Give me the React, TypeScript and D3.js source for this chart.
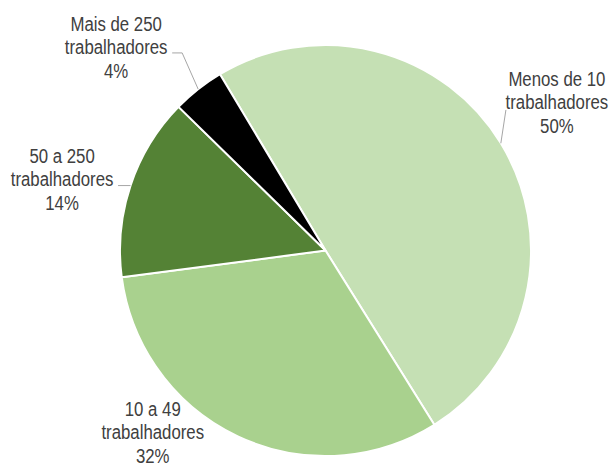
import React from "react";
import * as d3 from "d3";

// ---- Data ----
const categories = [
  "Menos de 10 trabalhadores",
  "10 a 49 trabalhadores",
  "50 a 250 trabalhadores",
  "Mais de 250 trabalhadores",
];
const categoryLines = [
  ["Menos de 10", "trabalhadores"],
  ["10 a 49", "trabalhadores"],
  ["50 a 250", "trabalhadores"],
  ["Mais de 250", "trabalhadores"],
];
const values = [49.7, 31.8, 14.4, 4.1];
const colors = ["#C5E0B4", "#A9D18E", "#548235", "#000000"];

// ---- Layout ----
const W = 614;
const H = 467;
const CX = 325.5;
const CY = 250.5;
const R = 205.5;
const START_DEG = -30.9;
const LINE_H = 23.5;
const FONT_SIZE = 21;
const NARROW = 0.8;
// label centre (middle line) in polar coordinates around the pie centre
const labelPolar = [
  { a: 57.3, r: 275 },
  { a: 223.6, r: 250.5 },
  { a: 285.2, r: 273 },
  { a: 314.2, r: 292 },
];
// leader line end points relative to label centre (null = no leader)
const leaderEnds: (Array<[number, number | "edge"]> | null)[] = [
  [[-51, 8]],
  null,
  [[56, "edge"]],
  [[66, 6], [56, 6]],
];

const rad = (d: number) => (d * Math.PI) / 180;

export default function App() {
  const pie = d3
    .pie<number>()
    .sort(null)
    .value((d) => d)
    .startAngle(rad(START_DEG))
    .endAngle(rad(START_DEG + 360));
  const arcs = pie(values);
  const arc = d3.arc<d3.PieArcDatum<number>>().innerRadius(0).outerRadius(R);
  const line = d3.line();

  return (
    <svg
      width={W}
      height={H}
      style={{ position: "absolute", left: 0, top: 0, background: "#fff" }}
      fontFamily="'Liberation Sans', Arial, sans-serif"
    >
      <g transform={`translate(${CX},${CY})`}>
        {arcs.map((a, i) => (
          <path
            key={categories[i]}
            d={arc(a) || ""}
            fill={colors[i]}
            stroke="#ffffff"
            strokeWidth={2}
            strokeLinejoin="round"
          />
        ))}
      </g>
      {arcs.map((a, i) => {
        const mid = (a.startAngle + a.endAngle) / 2;
        const ex = CX + Math.sin(mid) * R;
        const ey = CY - Math.cos(mid) * R;
        const lp = labelPolar[i];
        const lx = CX + Math.sin(rad(lp.a)) * lp.r;
        const ly = CY - Math.cos(rad(lp.a)) * lp.r;
        const ends = leaderEnds[i];
        let leader: React.ReactNode = null;
        if (ends) {
          const pts: [number, number][] = [[ex, ey]];
          ends.forEach((p) => {
            const y = p[1] === "edge" ? ey : ly + p[1];
            pts.push([lx + p[0], y]);
          });
          leader = (
            <path d={line(pts) || ""} fill="none" stroke="#A6A6A6" strokeWidth={1} />
          );
        }
        const lines = [...categoryLines[i], `${Math.round(values[i])}%`];
        return (
          <g key={"lbl" + i}>
            {leader}
            <text
              textAnchor="middle"
              fontSize={FONT_SIZE}
              fill="#404040"
              transform={`translate(${lx},0) scale(${NARROW},1) translate(${-lx},0)`}
            >
              {lines.map((t, k) => (
                <tspan key={k} x={lx} y={ly + (k - 1) * LINE_H + 7.5}>
                  {t}
                </tspan>
              ))}
            </text>
          </g>
        );
      })}
    </svg>
  );
}
